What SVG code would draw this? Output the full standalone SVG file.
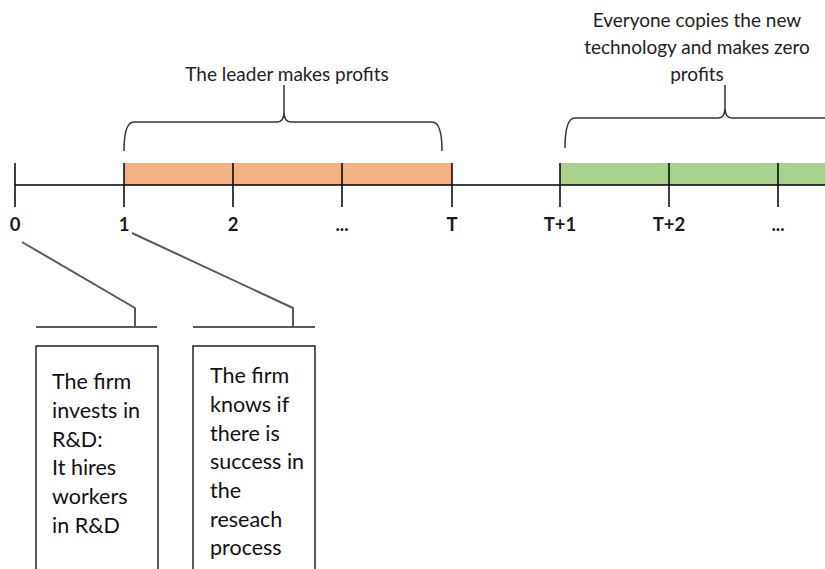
<svg xmlns="http://www.w3.org/2000/svg" width="825" height="569" viewBox="0 0 825 569">
  <style>
    .axis { stroke: #000; stroke-width: 1.5; fill: none; }
    .tick { stroke: #000; stroke-width: 1.5; }
    .brace { stroke: #333; stroke-width: 1.5; fill: none; }
    .callout { stroke: #595959; stroke-width: 2; fill: none; }
    .box { fill: #fff; stroke: #000; stroke-width: 1.3; }
    .lbl { font-family: Lato, "Liberation Sans", sans-serif; font-weight: bold; font-size: 18.5px; fill: #1a1a1a; text-anchor: middle; }
    .note { font-family: Lato, "Liberation Sans", sans-serif; font-size: 19px; fill: #222; text-anchor: middle; }
    .body { font-family: Lato, "Liberation Sans", sans-serif; font-size: 21.5px; fill: #111; }
  </style>
  <rect width="825" height="569" fill="#fff"/>

  <!-- period bands -->
  <g id="leader-period">
    <rect x="124" y="163" width="328" height="22" fill="#F4B183"/>
  </g>
  <g id="copy-period">
    <rect x="560" y="163" width="270" height="22" fill="#A9D18E"/>
  </g>

  <!-- time axis with ticks -->
  <g id="axis">
    <line class="axis" x1="15" y1="185" x2="825" y2="185"/>
    <line class="tick" x1="15" y1="163" x2="15" y2="207"/>
    <line class="tick" x1="124" y1="163" x2="124" y2="207"/>
    <line class="tick" x1="233" y1="163" x2="233" y2="207"/>
    <line class="tick" x1="342" y1="163" x2="342" y2="207"/>
    <line class="tick" x1="452" y1="163" x2="452" y2="207"/>
    <line class="tick" x1="560" y1="163" x2="560" y2="207"/>
    <line class="tick" x1="669" y1="163" x2="669" y2="207"/>
    <line class="tick" x1="778" y1="163" x2="778" y2="207"/>
  </g>

  <g id="tick-labels">
    <text class="lbl" x="15" y="231">0</text>
    <text class="lbl" x="124" y="231">1</text>
    <text class="lbl" x="233" y="231">2</text>
    <text class="lbl" x="342" y="231">...</text>
    <text class="lbl" x="452" y="231">T</text>
    <text class="lbl" x="560" y="231">T+1</text>
    <text class="lbl" x="669" y="231">T+2</text>
    <text class="lbl" x="778" y="231">...</text>
  </g>

  <!-- braces with captions -->
  <g id="leader-brace">
    <path class="brace" d="M124,151 Q124,122 134,122 L277,122 Q284,122 284,112 L284,85 M284,112 Q284,122 291,122 L432,122 Q442,122 442,151"/>
    <text class="note" x="287" y="81">The leader makes profits</text>
  </g>
  <g id="copy-brace">
    <path class="brace" d="M565,148 Q565,118 575,118 L718,118 Q725,118 725,108 L725,85 M725,108 Q725,118 732,118 L830,118"/>
    <text class="note" x="697" y="27">Everyone copies the new</text>
    <text class="note" x="697" y="54">technology and makes zero</text>
    <text class="note" x="697" y="81">profits</text>
  </g>

  <!-- callout leaders -->
  <g id="connectors">
    <path class="callout" d="M22,242 L135,308 L135,327"/>
    <line class="callout" x1="36" y1="327" x2="157" y2="327"/>
    <path class="callout" d="M132,233 L293,308 L293,327"/>
    <line class="callout" x1="193" y1="327" x2="315" y2="327"/>
  </g>

  <g id="box-invest">
    <rect class="box" x="36" y="346" width="122" height="240"/>
    <text class="body" x="52">
      <tspan x="52" y="389">The firm</tspan>
      <tspan x="52" y="418">invests in</tspan>
      <tspan x="52" y="447">R&amp;D:</tspan>
      <tspan x="52" y="475">It hires</tspan>
      <tspan x="52" y="504">workers</tspan>
      <tspan x="52" y="533">in R&amp;D</tspan>
    </text>
  </g>

  <g id="box-success">
    <rect class="box" x="193" y="346" width="122" height="240"/>
    <text class="body" x="210">
      <tspan x="210" y="383">The firm</tspan>
      <tspan x="210" y="412">knows if</tspan>
      <tspan x="210" y="441">there is</tspan>
      <tspan x="210" y="469">success in</tspan>
      <tspan x="210" y="498">the</tspan>
      <tspan x="210" y="527">reseach</tspan>
      <tspan x="210" y="555">process</tspan>
    </text>
  </g>
</svg>
